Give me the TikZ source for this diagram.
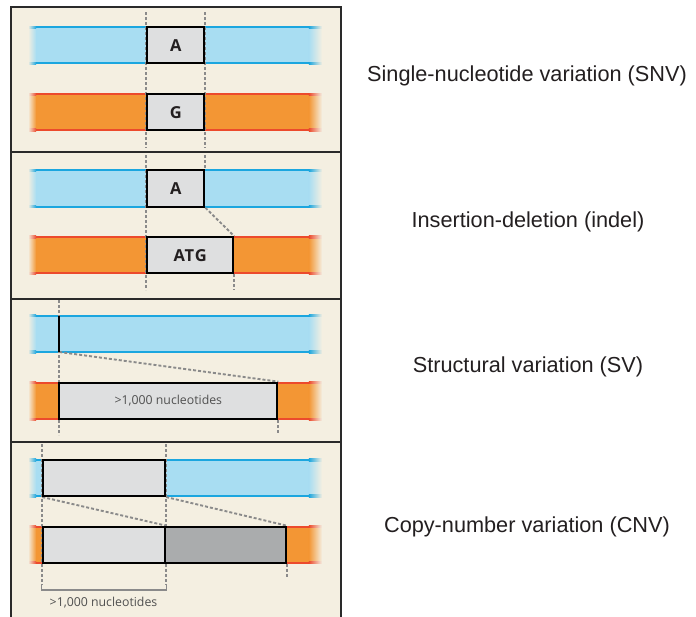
\documentclass[tikz,border=0pt]{standalone}
\usepackage{fontspec}
\newfontfamily\labfamily{Liberation Sans}
\newfontfamily\boxfamily{Open Sans}
\newfontfamily\letterfamily[LetterSpace=6]{Open Sans}
\definecolor{bg}{HTML}{F4EFE1}
\definecolor{bluefill}{HTML}{A8DDF2}
\definecolor{blueline}{HTML}{1BA6DF}
\definecolor{orfill}{HTML}{F39634}
\definecolor{orline}{HTML}{EC4A2C}
\definecolor{boxfill}{HTML}{DEDFE0}
\definecolor{darkbox}{HTML}{AAACAD}
\definecolor{dashc}{HTML}{8A8A8A}
\definecolor{framec}{HTML}{2A2A2A}
\definecolor{labc}{HTML}{231F20}
\definecolor{ntc}{HTML}{505050}
\pgfdeclarelayer{bands}
\pgfdeclarelayer{dashes}
\pgfsetlayers{bands,dashes,main}
\newcommand\band[4]{%
  \fill[#3] (36,#1) rectangle (309,#2);
  \shade[left color=bg, right color=#3] (28,#1) rectangle (36.2,#2);
  \shade[left color=#3, right color=bg] (308.8,#1) rectangle (322,#2);
  \fill[#4] (36,#1-1.1) rectangle (309,#1+1.1);
  \fill[#4] (36,#2-1.1) rectangle (309,#2+1.1);
  \shade[left color=bg, right color=#4] (28,#1-1.1) rectangle (36.2,#1+1.1);
  \shade[left color=bg, right color=#4] (28,#2-1.1) rectangle (36.2,#2+1.1);
  \shade[left color=#4, right color=bg] (308.8,#1-1.1) rectangle (322,#1+1.1);
  \shade[left color=#4, right color=bg] (308.8,#2-1.1) rectangle (322,#2+1.1);
}
\tikzset{
  boxn/.style={draw=black, line width=2.1pt, fill=boxfill, inner sep=0pt, text=labc,
    font=\letterfamily\bfseries\fontsize{16.5}{19}\selectfont},
  ntbox/.style={boxn, font=\boxfamily\fontsize{12.3}{14}\selectfont, text=ntc},
  vdash/.style={draw=dashc, line width=1.9pt, dash pattern=on 3pt off 2pt},
  lab/.style={font=\labfamily\fontsize{21.7}{26}\selectfont, text=labc, anchor=base},
  ntext/.style={font=\boxfamily\fontsize{12.3}{14}\selectfont, text=ntc},
  framel/.style={draw=framec, line width=2pt},
}
\begin{document}
\begin{tikzpicture}[x=1pt, y=-1pt]
\useasboundingbox (0,0) rectangle (696,616);
\begin{pgfonlayer}{bands}
\fill[white] (0,0) rectangle (696,616);
\fill[bg] (11,7) rectangle (341,617);
\band{27.3}{63.3}{bluefill}{blueline}
\band{94.3}{130}{orfill}{orline}
\band{170.3}{206.7}{bluefill}{blueline}
\band{237}{273.3}{orfill}{orline}
\band{315.7}{352}{bluefill}{blueline}
\band{382.7}{419.3}{orfill}{orline}
\band{460}{496}{bluefill}{blueline}
\band{526.7}{562.7}{orfill}{orline}
\end{pgfonlayer}

% ---------- helper coordinates ----------
\coordinate (t1) at (0,12);
\coordinate (b1) at (0,147.5);
\coordinate (t2) at (0,155);
\coordinate (b2) at (0,290);
\coordinate (t3) at (0,300);
\coordinate (b3) at (0,435);
\coordinate (t4) at (0,444);
\coordinate (b4) at (0,585);
\coordinate (b4r) at (0,578);

% ---------- panel 1: SNV ----------
\node[boxn, minimum width=57pt, minimum height=36pt] (snvA) at (175.8,45.3) {A};
\node[boxn, minimum width=57pt, minimum height=35.7pt] (snvG) at (175.8,112.2) {G};
\begin{pgfonlayer}{dashes}
\draw[vdash] (snvA.north west |- t1) -- (snvA.north west |- b1);
\draw[vdash] (snvA.north east |- t1) -- (snvA.north east |- b1);
\end{pgfonlayer}

% ---------- panel 2: indel ----------
\node[boxn, minimum width=57pt, minimum height=36.4pt] (indA) at (175.8,188.5) {A};
\node[boxn, minimum width=85.7pt, minimum height=36.3pt] (indATG) at (190.2,255.2) {ATG};
\begin{pgfonlayer}{dashes}
\draw[vdash] (indA.north west |- t2) -- (indA.north west |- b2);
\draw[vdash] (indA.north east |- t2) -- (indA.north east);
\draw[vdash] (indA.south east) -- (indATG.north east);
\draw[vdash] (indATG.south east) -- (indATG.south east |- b2);
\end{pgfonlayer}

% ---------- panel 3: SV ----------
\coordinate (svtop) at (59.3,315.7);
\coordinate (svbot) at (59.3,352);
\node[ntbox, minimum width=218pt, minimum height=36.6pt] (svbox) at (168.3,401) {>1,000 nucleotides};
\draw[black, line width=2pt] (svtop) -- (svbot);
\begin{pgfonlayer}{dashes}
\draw[vdash] (svtop |- t3) -- (svtop |- b3);
\draw[vdash] (svbot) -- (svbox.north east);
\draw[vdash] (svbox.south east) -- (svbox.south east |- b3);
\end{pgfonlayer}

% ---------- panel 4: CNV ----------
\node[boxn, minimum width=121.7pt, minimum height=36pt] (cnvA) at (104.2,478) {};
\node[boxn, minimum width=121.7pt, minimum height=36pt] (cnvB) at (104.2,544.7) {};
\node[boxn, fill=darkbox, minimum width=120.7pt, minimum height=36pt] (cnvC) at (225.3,544.7) {};
\begin{pgfonlayer}{dashes}
\draw[vdash] (cnvA.north west |- t4) -- (cnvA.north west |- b4);
\draw[vdash] (cnvA.north east |- t4) -- (cnvA.north east |- b4);
\draw[vdash] (cnvC.south east) -- (cnvC.south east |- b4r);
\draw[vdash] (cnvA.south west) -- (cnvB.north east);
\draw[vdash] (cnvA.south east) -- (cnvC.north east);
\end{pgfonlayer}
% bracket
\coordinate (brl) at (41.7,584);
\coordinate (brr) at (166.5,584);
\draw[dashc, line width=1.2pt] (brl) -- ++(0,6) -| (brr);
\node[ntext] (cnvtxt) at (103.5,602.5) {>1,000 nucleotides};

% ---------- frame ----------
\draw[framel] (11,617) -- (11,7) -- (341,7) -- (341,617);
\draw[framel] (11,152) -- (341,152);
\draw[framel] (11,298.5) -- (341,298.5);
\draw[framel] (11,441.5) -- (341,441.5);

% ---------- labels ----------
\node[lab] (lsnv) at (527,81) {Single-nucleotide variation (SNV)};
\node[lab] (lind) at (528,227) {Insertion-deletion (indel)};
\node[lab] (lsv) at (528,372) {Structural variation (SV)};
\node[lab] (lcnv) at (527,532) {Copy-number variation (CNV)};
\end{tikzpicture}
\end{document}
